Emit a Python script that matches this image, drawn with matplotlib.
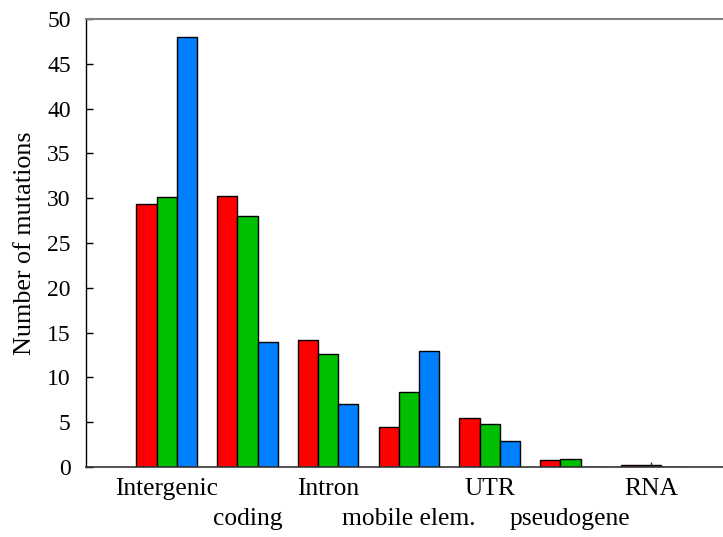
import matplotlib
matplotlib.use("Agg")
import matplotlib.pyplot as plt
import numpy as np

categories = ["Intergenic", "coding", "Intron", "mobile elem.", "UTR", "pseudogene", "RNA"]
series_red = [29.4, 30.3, 14.2, 4.5, 5.5, 0.75, 0.2]
series_green = [30.1, 28.0, 12.6, 8.4, 4.8, 0.85, 0.2]
series_blue = [48.0, 14.0, 7.0, 13.0, 2.9, 0.0, 0.0]
green_err = [0, 0, 0, 0, 0, 0, 0.35]
y_ticks = [0, 5, 10, 15, 20, 25, 30, 35, 40, 45, 50]

plt.rcParams["font.family"] = ["Liberation Serif", "DejaVu Serif"]

W, H = 723, 537
fig = plt.figure(figsize=(W / 100, H / 100), dpi=100)
ax = fig.add_axes([86 / W, (H - 467) / H, (W - 86) / W, (467 - 19) / H])

x = np.arange(len(categories))
bw = 0.25
kw = dict(width=bw, edgecolor="black", linewidth=1.0)
ax.bar(x - bw, series_red, color="#ff0000", **kw)
ax.bar(x, series_green, color="#00bf00", **kw)
ax.bar(x + bw, series_blue, color="#0080ff", **kw)
idx = [i for i, e in enumerate(green_err) if e > 0]
ax.errorbar(x[idx], [series_green[i] for i in idx],
            yerr=[[0] * len(idx), [green_err[i] for i in idx]],
            fmt="none", ecolor="#333333", elinewidth=1.0, capsize=0)

ax.set_xlim(-1.0, 6.89)
ax.set_ylim(0, 50)
ax.set_yticks(y_ticks)
ax.set_yticklabels([str(t) for t in y_ticks], fontsize=17)
ax.tick_params(axis="y", direction="in", length=5, width=1, pad=11)
ax.set_xticks([])

# category names alternate between two rows under the axis
for i, name in enumerate(categories):
    ax.annotate(name, xy=(i, 0), xycoords=("data", "axes fraction"),
                xytext=(0, -11 if i % 2 == 0 else -41), textcoords="offset pixels",
                ha="center", va="top", fontsize=18.4, annotation_clip=False)

ax.set_ylabel("Number of mutations", fontsize=18.8)
ax.yaxis.set_label_coords(-0.078, 0.5)

ax.spines["right"].set_visible(False)
ax.spines["top"].set_color("#808080")
ax.spines["top"].set_linewidth(1.5)
ax.spines["left"].set_color("black")
ax.spines["left"].set_linewidth(1.0)
ax.spines["bottom"].set_color("#333333")
ax.spines["bottom"].set_linewidth(1.2)

fig.savefig("out.png", dpi=100)
